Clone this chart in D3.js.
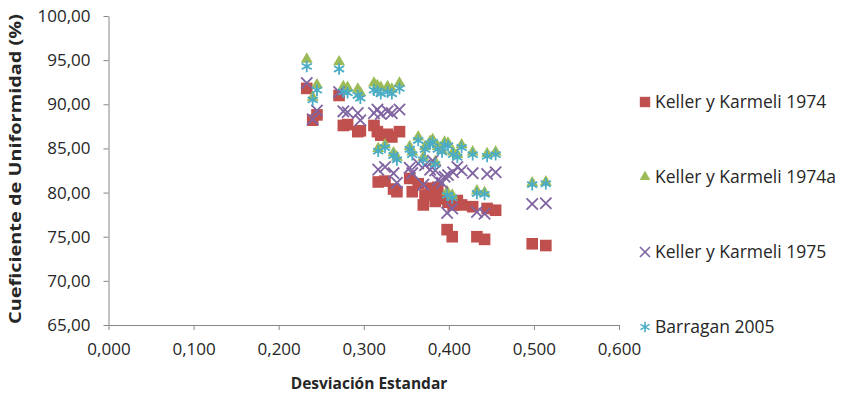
<!DOCTYPE html>
<html>
<head>
<meta charset="utf-8">
<script src="https://cdn.jsdelivr.net/npm/d3@7"></script>
<style>
  body { margin: 0; background: #fff; }
  svg text { font-family: "Open Sans", "Noto Sans", sans-serif; fill: #262626; }
  .tick text { font-size: 17px; }
  .ttl { font-size: 15.5px; font-weight: 700; }
  .leg { font-size: 17.5px; }
</style>
</head>
<body>
<svg id="chart" width="851" height="395"></svg>
<script>
// standard deviation of each test (x) and the CU from each formula
const desv      = [0.233, 0.240, 0.245, 0.271, 0.276, 0.281, 0.293, 0.296, 0.312, 0.316, 0.320, 0.328, 0.333, 0.342,
                   0.317, 0.325, 0.335, 0.339, 0.354, 0.357, 0.364, 0.370, 0.372, 0.378, 0.381, 0.384, 0.387,
                   0.392, 0.395, 0.399, 0.398, 0.404, 0.405, 0.410, 0.415, 0.428, 0.433, 0.442, 0.445, 0.455,
                   0.498, 0.514];
const keller74  = [91.8, 88.2, 88.8, 91.0, 87.6, 87.7, 86.9, 87.0, 87.6, 86.9, 86.5, 86.6, 86.3, 86.9,
                   81.2, 81.3, 80.4, 80.1, 81.6, 80.1, 81.0, 78.6, 79.7, 80.5, 80.2, 79.0, 80.6,
                   79.3, 79.5, 78.9, 75.8, 75.0, 78.6, 79.1, 78.6, 78.4, 75.0, 74.7, 78.2, 78.0,
                   74.2, 74.0];
const keller74a = [95.1, 90.8, 92.2, 94.8, 92.0, 91.9, 91.7, 91.3, 92.4, 92.1, 91.9, 92.0, 91.7, 92.4,
                   85.0, 85.4, 84.5, 84.0, 85.2, 84.6, 86.3, 84.0, 85.2, 85.8, 86.0, 83.5, 85.2,
                   84.8, 85.7, 85.6, 80.1, 79.7, 84.6, 84.3, 85.4, 84.6, 80.2, 80.0, 84.4, 84.6,
                   81.1, 81.2];
const keller75  = [92.4, 88.3, 89.3, 91.4, 89.2, 89.1, 89.0, 88.2, 89.0, 89.4, 88.9, 89.2, 89.0, 89.4,
                   82.6, 82.9, 82.2, 81.1, 82.8, 82.2, 83.3, 80.9, 83.1, 82.6, 83.6, 82.5, 81.4,
                   81.1, 81.8, 82.0, 77.7, 78.2, 82.3, 82.9, 82.5, 82.2, 77.8, 77.6, 82.1, 82.3,
                   78.7, 78.8];
const barragan  = [94.3, 90.5, 91.6, 94.0, 91.4, 91.3, 91.0, 90.7, 91.6, 91.5, 91.2, 91.4, 91.2, 91.8,
                   84.7, 85.1, 84.2, 83.7, 84.9, 84.3, 85.9, 83.7, 84.9, 85.5, 85.7, 83.2, 84.9,
                   84.6, 85.4, 85.3, 79.7, 79.4, 84.3, 84.0, 85.1, 84.3, 79.9, 79.8, 84.1, 84.3,
                   80.9, 81.0];

const xTicks = [0, 0.1, 0.2, 0.3, 0.4, 0.5, 0.6];
const yTicks = [65, 70, 75, 80, 85, 90, 95, 100];

const series = [
  {name: 'Keller y Karmeli 1974',  vals: keller74,  sym: d3.symbolSquare,   size: 135, color: '#C0504D', fill: true},
  {name: 'Keller y Karmeli 1974a', vals: keller74a, sym: d3.symbolTriangle, size: 62,  color: '#9BBB59', fill: true},
  {name: 'Keller y Karmeli 1975',  vals: keller75,  sym: d3.symbolX,        size: 85,  color: '#8064A2', fill: false},
  {name: 'Barragan 2005',          vals: barragan,  sym: d3.symbolAsterisk, size: 95,  color: '#4BACC6', fill: false}
];

const svg = d3.select('#chart');
const x = d3.scaleLinear().domain([0, 0.6]).range([108.5, 619]);
const y = d3.scaleLinear().domain([65, 100]).range([325, 16]);
const comma = (v, d) => v.toFixed(d).replace('.', ',');

const gx = svg.append('g').attr('transform', 'translate(0,325)')
  .call(d3.axisBottom(x).tickValues(xTicks).tickSize(5).tickSizeOuter(0).tickPadding(13)
    .tickFormat(v => comma(v, 3)));
const gy = svg.append('g').attr('transform', 'translate(108.5,0)')
  .call(d3.axisLeft(y).tickValues(yTicks).tickSize(5).tickSizeOuter(0).tickPadding(13)
    .tickFormat(v => comma(v, 2)));
[gx, gy].forEach(g => {
  g.select('.domain').attr('stroke', '#868686');
  g.selectAll('.tick line').attr('stroke', '#868686');
  g.selectAll('.tick text').attr('fill', '#262626');
});

const sym = d3.symbol();
series.forEach(s => {
  svg.append('g').selectAll('path').data(s.vals).join('path')
    .attr('transform', (v, i) => `translate(${x(desv[i])},${y(v)})`)
    .attr('d', sym.type(s.sym).size(s.size)())
    .attr('fill', s.fill ? s.color : 'none')
    .attr('stroke', s.fill ? 'none' : s.color)
    .attr('stroke-width', 1.8);
});

// legend
series.forEach((s, i) => {
  const ly = 102 + i * 75;
  svg.append('path').attr('transform', `translate(645,${ly})`)
    .attr('d', sym.type(s.sym).size(s.size * 0.8)())
    .attr('fill', s.fill ? s.color : 'none')
    .attr('stroke', s.fill ? 'none' : s.color)
    .attr('stroke-width', 1.6);
  svg.append('text').attr('class', 'leg').attr('x', 655).attr('y', ly).attr('dy', '0.35em').text(s.name);
});

svg.append('text').attr('class', 'ttl').attr('text-anchor', 'middle')
  .attr('x', 369).attr('y', 389).text('Desviación Estandar');
svg.append('text').attr('class', 'ttl').attr('text-anchor', 'middle')
  .attr('transform', 'translate(21,169) rotate(-90)')
  .attr('textLength', 310).attr('lengthAdjust', 'spacingAndGlyphs')
  .text('Cueficiente de Uniformidad (%)');
</script>
</body>
</html>
